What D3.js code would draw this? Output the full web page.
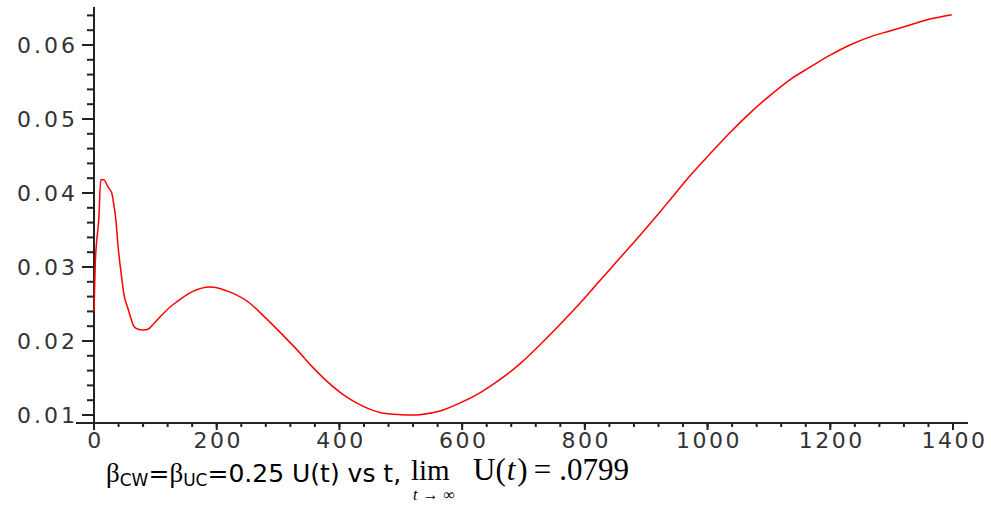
<!DOCTYPE html>
<html>
<head>
<meta charset="utf-8">
<script src="https://cdn.jsdelivr.net/npm/d3@7"></script>
<style>
  body { margin: 0; background: #fff; }
  svg { display: block; }
</style>
</head>
<body>
<script>
// values: time t and U(t)
var tValues = [0, 2, 8, 11, 16, 23, 29, 31, 36, 39, 44, 49, 55, 60, 65, 72, 80, 88, 98,
  124, 140, 161, 189, 222, 254, 275, 303, 331, 357, 390, 412, 438, 466, 499, 518, 531,
  564, 596, 629, 662, 694, 727, 759, 792, 825, 857, 890, 922, 939, 971, 1004, 1036,
  1069, 1102, 1134, 1167, 1199, 1232, 1265, 1297, 1330, 1362, 1398];
var uValues = [0.0240, 0.0303, 0.0368, 0.0418, 0.0418, 0.0408, 0.0400, 0.0391, 0.0361, 0.0330,
  0.0293, 0.0262, 0.0245, 0.0231, 0.0220, 0.0216, 0.0215, 0.0216, 0.0224,
  0.0246, 0.0256, 0.0267, 0.0273, 0.0266, 0.0251, 0.0235, 0.0212, 0.0188, 0.0164, 0.0138,
  0.0124, 0.0112, 0.01035, 0.01005, 0.0100, 0.01005,
  0.01054, 0.0116, 0.0130, 0.0148, 0.0169, 0.0195, 0.0222, 0.0251, 0.0282, 0.0312, 0.0343,
  0.0374, 0.0391, 0.0423, 0.0453, 0.0481, 0.0508, 0.0532, 0.0553, 0.0570, 0.0586, 0.0600,
  0.0611, 0.0619, 0.0627, 0.0635, 0.0641];

var xTicks = [0, 200, 400, 600, 800, 1000, 1200, 1400];
var yTicks = [0.01, 0.02, 0.03, 0.04, 0.05, 0.06];
var yTickLabels = ["0.01", "0.02", "0.03", "0.04", "0.05", "0.06"];

var svgWidth = 991;
var svgHeight = 505;

var svg = d3.select("body")
  .append("svg")
  .attr("width", svgWidth)
  .attr("height", svgHeight);

// scales
var x = d3.scaleLinear().domain([0, 1400]).range([94, 953]);
var y = d3.scaleLinear().domain([0.01, 0.06]).range([415, 45]);

var axisY = 423;
var axisColor = "#222";
var labelColor = "#333";

// minor ticks every 40 along t, every 0.002 along U
var xMinor = d3.range(0, 1401, 40);
var yMinor = d3.range(0.010, 0.0645, 0.002);

// x axis
var xAxisG = svg.append("g").attr("transform", "translate(0," + axisY + ")");
xAxisG.append("line")
  .attr("x1", 76).attr("x2", 968)
  .attr("y1", 0).attr("y2", 0)
  .attr("stroke", axisColor).attr("stroke-width", 2);
xAxisG.selectAll(".minor")
  .data(xMinor)
  .enter()
  .append("line")
  .attr("x1", d => x(d)).attr("x2", d => x(d))
  .attr("y1", 0).attr("y2", 4)
  .attr("stroke", axisColor).attr("stroke-width", 2);
xAxisG.selectAll(".major")
  .data(xTicks)
  .enter()
  .append("line")
  .attr("x1", d => x(d)).attr("x2", d => x(d))
  .attr("y1", 0).attr("y2", 7)
  .attr("stroke", axisColor).attr("stroke-width", 2);
xAxisG.selectAll("text")
  .data(xTicks)
  .enter()
  .append("text")
  .attr("x", d => x(d) + 1.5)
  .attr("y", 25)
  .attr("text-anchor", "middle")
  .attr("font-family", "DejaVu Sans, sans-serif")
  .attr("font-size", "22px")
  .attr("letter-spacing", "2.5px")
  .attr("fill", labelColor)
  .text(d => d);

// y axis
var yAxisG = svg.append("g").attr("transform", "translate(94,0)");
yAxisG.append("line")
  .attr("x1", 0).attr("x2", 0)
  .attr("y1", 7).attr("y2", 430)
  .attr("stroke", axisColor).attr("stroke-width", 2);
yAxisG.selectAll(".minor")
  .data(yMinor)
  .enter()
  .append("line")
  .attr("x1", -7).attr("x2", 0)
  .attr("y1", d => y(d)).attr("y2", d => y(d))
  .attr("stroke", axisColor).attr("stroke-width", 2);
yAxisG.selectAll(".major")
  .data(yTicks)
  .enter()
  .append("line")
  .attr("x1", -12).attr("x2", 0)
  .attr("y1", d => y(d)).attr("y2", d => y(d))
  .attr("stroke", axisColor).attr("stroke-width", 2);
yAxisG.selectAll("text")
  .data(yTicks)
  .enter()
  .append("text")
  .attr("x", -16)
  .attr("y", d => y(d) + 8)
  .attr("text-anchor", "end")
  .attr("font-family", "DejaVu Sans, sans-serif")
  .attr("font-size", "22px")
  .attr("letter-spacing", "3px")
  .attr("fill", labelColor)
  .text((d, i) => yTickLabels[i]);

// the curve
var points = tValues.map((t, i) => [t, uValues[i]]);
var line = d3.line()
  .curve(d3.curveMonotoneX)
  .x(d => x(d[0]))
  .y(d => y(d[1]));

svg.append("path")
  .datum(points)
  .attr("d", line)
  .attr("fill", "none")
  .attr("stroke", "#ff0000")
  .attr("stroke-width", 1.5)
  .attr("stroke-linejoin", "round");

// caption
var cap = svg.append("text")
  .attr("x", 106)
  .attr("y", 482)
  .attr("font-family", "DejaVu Sans, sans-serif")
  .attr("font-size", "25px")
  .attr("fill", "#000");
cap.append("tspan").attr("font-family", "Liberation Serif, serif").attr("font-size", "27px").text("β");
cap.append("tspan").attr("font-size", "17px").attr("dy", 4).text("CW");
cap.append("tspan").attr("dy", -4).text("=");
cap.append("tspan").attr("font-family", "Liberation Serif, serif").attr("font-size", "27px").text("β");
cap.append("tspan").attr("font-size", "17px").attr("dy", 4).text("UC");
cap.append("tspan").attr("dy", -4).text("=0.25 U(t) vs t,");

var lim = svg.append("g")
  .attr("font-family", "Liberation Serif, Times New Roman, serif")
  .attr("fill", "#000");
lim.append("text")
  .attr("x", 411).attr("y", 480)
  .attr("font-size", "29px")
  .text("lim");
var ut = lim.append("text")
  .attr("x", 473).attr("y", 480)
  .attr("font-size", "31px");
ut.append("tspan").text("U(");
ut.append("tspan").attr("font-style", "italic").attr("dx", 1).text("t");
ut.append("tspan").attr("dx", 2).text(")");
ut.append("tspan").attr("dx", 6).text("=");
ut.append("tspan").attr("dx", 8).text(".0799");
var sub = lim.append("text")
  .attr("x", 413).attr("y", 500)
  .attr("font-size", "16px");
sub.append("tspan").attr("font-style", "italic").text("t");
sub.append("tspan").attr("dx", 5).text("→");
sub.append("tspan").attr("dx", 5).text("∞");
</script>
</body>
</html>
